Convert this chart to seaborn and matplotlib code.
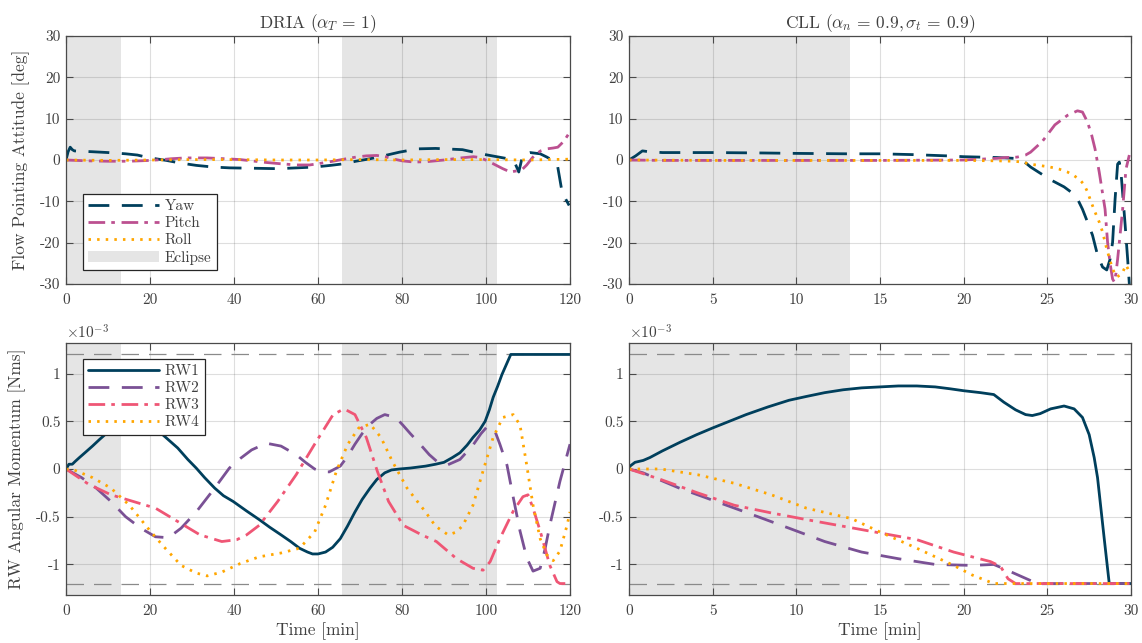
import numpy as np
import pandas as pd
import matplotlib
matplotlib.use("Agg")
import matplotlib.pyplot as plt
import seaborn as sns
from matplotlib.patches import Patch
from matplotlib.lines import Line2D
from matplotlib.ticker import FuncFormatter, FixedLocator

# ---------------- data ----------------
DRIA_TITLE = r'DRIA ($\alpha_T\, =\, 1$)'
CLL_TITLE = r'CLL ($\alpha_n\, =\, 0.9, \sigma_t\, =\, 0.9$)'
ATT_LABELS = ['Yaw', 'Pitch', 'Roll']
RW_LABELS = ['RW1', 'RW2', 'RW3', 'RW4']
DRIA_ECLIPSES = [(0.0, 13.2), (65.7, 102.6)]
CLL_ECLIPSES = [(0.0, 13.2)]
RW_LIMIT = 1.2  # x 1e-3 Nms

# DRIA attitude [deg]
dria_yaw_t = [0, 0.5, 1.0, 1.5, 2, 4, 6.3, 10, 14.2, 17, 19.5, 22, 23.9, 27, 31, 35, 38.9, 45, 50.4, 55,
              59.2, 63, 66.2, 69, 72.4, 76, 79.4, 83.8, 88, 94.4, 98.8, 102, 105.8, 107, 107.8, 108.8,
              110.5, 112.9, 114.5, 116, 117, 118.1, 119, 119.8]
dria_yaw = [0, 2.0, 3.1, 2.5, 2.2, 2.1, 2.0, 1.8, 1.5, 1.2, 0.6, 0.2, -0.1, -0.7, -1.3, -1.7, -1.9, -2.0,
            -2.1, -1.9, -1.7, -1.3, -0.9, -0.3, 0.3, 1.1, 1.9, 2.7, 2.8, 2.5, 1.5, 0.9, 0.2, -1.0, -2.9,
            1.4, 1.8, 1.5, 0.7, -0.2, -1.2, -7.7, -9.5, -11]
dria_pitch_t = [0, 5, 10, 15, 20, 22.9, 25, 28.3, 33.6, 38, 41.5, 45, 47.7, 51, 54.8, 58, 60, 63, 66.2, 69,
                71.5, 74, 76, 77.7, 80, 82.9, 86, 90, 94, 97, 98.5, 99.7, 101.5, 104, 105.8, 107.5, 108.5,
                109.7, 111, 112, 113, 114.5, 116, 117.1, 118.5, 119.8]
dria_pitch = [0, -0.2, -0.3, -0.3, -0.1, 0.1, 0.3, 0.5, 0.5, 0.3, 0.1, -0.3, -0.6, -0.9, -1.2, -1.2, -0.9,
              -0.4, 0.2, 0.7, 1.0, 1.1, 0.8, 0.3, -0.2, -0.5, -0.4, 0, 0.5, 0.8, 0.6, 0.1, -0.8, -2.1,
              -2.9, -2.6, -2.4, -1.2, 0.5, 1.5, 2.2, 2.7, 2.9, 3.1, 4.5, 6.5]
dria_roll_t = [0, 10, 20, 30, 40, 50, 60, 70, 80, 90, 100, 110, 120]
dria_roll = [0, -0.1, 0, 0.1, 0.1, 0, 0, 0.1, 0, 0.1, 0.1, 0, 0.2]

# CLL attitude [deg]
cll_yaw_t = [0, 0.4, 0.8, 1.2, 2, 3, 5, 8, 10, 13, 15, 17, 19, 20, 21, 22, 23, 23.5, 24, 24.5, 25.2, 26,
             26.4, 26.8, 27.1, 27.4, 27.7, 28, 28.3, 28.55, 28.75, 28.9, 29.05, 29.2, 29.3, 29.4, 29.5,
             29.65, 29.8, 29.9]
cll_yaw = [0, 1.0, 2.2, 2.0, 1.8, 1.8, 1.8, 1.7, 1.6, 1.5, 1.5, 1.3, 1.0, 0.8, 0.7, 0.6, 0.4, 0, -1.7, -3,
           -4.8, -6.5, -7.7, -9.4, -11.9, -15, -18.2, -23, -25.9, -26.6, -24, -19.9, -9.4, -1, -0.5, -2.9,
           -8, -15.7, -24, -30]
cll_pitch_t = [0, 2, 5, 10, 15, 20, 21, 22, 22.5, 23.2, 23.7, 24, 24.7, 25.45, 26.2, 26.8, 27.1, 27.4,
               27.65, 27.85, 28.1, 28.45, 28.6, 28.75, 28.9, 29.0, 29.1, 29.2, 29.35, 29.5, 29.7, 29.9]
cll_pitch = [0, -0.1, -0.1, -0.1, -0.1, 0, 0.2, 0.4, 0.6, 0.7, 1.2, 1.9, 4.5, 8.5, 10.8, 11.9, 11.6, 9.2,
             6, 2.7, -2.9, -11.9, -19.9, -25, -28.8, -29.5, -27.5, -24, -18, -11.9, -2.2, 1.2]
cll_roll_t = [0, 5, 10, 15, 20, 22, 23, 23.5, 23.96, 24.5, 25.16, 25.7, 26.2, 26.6, 26.95, 27.2, 27.4,
              27.6, 27.85, 28.1, 28.3, 28.55, 28.9, 29.15, 29.45, 29.7, 29.9]
cll_roll = [0, -0.1, -0.1, -0.1, -0.1, -0.2, -0.3, -0.5, -1, -1.3, -1.7, -2.2, -2.9, -3.8, -4.8, -6, -7.7,
            -10, -12.6, -15, -17.4, -21.5, -26.4, -28.3, -27.6, -25.4, -27]

# DRIA reaction wheel momentum [x1e-3 Nms]
dria_rw1_t = [0, 0.7, 1.5, 2.2, 3.2, 4.5, 6.3, 8, 9.8, 12, 15, 18, 21, 23, 26.6, 29, 31, 33, 35.4, 37.5,
              39.8, 43, 46, 48.5, 51.2, 53.5, 55.6, 57.5, 58.7, 60, 61.8, 63.5, 65.3, 67, 68.8, 70.5, 72.4,
              74, 75.9, 77.5, 79.4, 82, 85.6, 88, 90, 92, 93.8, 95.5, 96.9, 98.5, 99.8, 100.8, 101.7,
              102.8, 103.8, 104.9, 105.9, 120]
dria_rw1 = [0, 0.05, 0.05, 0.08, 0.12, 0.17, 0.24, 0.31, 0.38, 0.44, 0.49, 0.48, 0.42, 0.36, 0.22, 0.1,
            0.01, -0.09, -0.2, -0.28, -0.34, -0.44, -0.53, -0.61, -0.69, -0.76, -0.83, -0.87, -0.89, -0.89,
            -0.87, -0.82, -0.73, -0.6, -0.45, -0.32, -0.2, -0.11, -0.04, -0.01, 0.0, 0.01, 0.03, 0.05,
            0.07, 0.12, 0.17, 0.25, 0.33, 0.41, 0.5, 0.62, 0.75, 0.87, 0.99, 1.1, 1.2, 1.2]
dria_rw2_t = [0, 3.7, 7.2, 10.7, 14.2, 17.8, 21.3, 24.4, 27.4, 31, 35.4, 38.9, 41.5, 44.2, 47.7, 51.2,
              54.8, 57, 59.2, 61, 62.7, 65.3, 67, 68.8, 70.5, 72.4, 74, 75.9, 78.5, 80.2, 82, 84.3, 86.5,
              88.3, 90.7, 93.8, 96.9, 98.8, 100.2, 101.2, 102.1, 103.3, 105, 106.5, 108.1, 109.7, 111.2,
              112.9, 114, 115.2, 117.6, 120]
dria_rw2 = [0, -0.09, -0.2, -0.34, -0.5, -0.62, -0.71, -0.72, -0.62, -0.45, -0.2, 0.01, 0.11, 0.2, 0.27,
            0.24, 0.15, 0.07, 0.0, -0.03, -0.03, 0.03, 0.13, 0.26, 0.37, 0.47, 0.53, 0.57, 0.54, 0.46,
            0.37, 0.26, 0.15, 0.08, 0.04, 0.1, 0.25, 0.37, 0.44, 0.44, 0.4, 0.26, 0.04, -0.3, -0.65,
            -0.93, -1.07, -1.04, -0.85, -0.59, -0.13, 0.26]
dria_rw3_t = [0, 5.4, 10.7, 16, 21.3, 26.6, 31.9, 37.1, 40.7, 43, 46, 50.4, 54.8, 59.2, 63.6, 66.2, 68.8,
              71.5, 74.1, 76.8, 80.3, 84.7, 88.2, 93, 96.9, 99.3, 101, 103.3, 106.5, 108.8, 110, 111.2,
              112.9, 115.2, 116.9, 117.6, 120]
dria_rw3 = [0, -0.16, -0.27, -0.34, -0.41, -0.55, -0.69, -0.76, -0.74, -0.69, -0.59, -0.34, -0.06, 0.26,
            0.57, 0.63, 0.57, 0.33, -0.02, -0.34, -0.59, -0.69, -0.76, -0.94, -1.04, -1.06, -0.97, -0.73,
            -0.44, -0.29, -0.27, -0.41, -0.65, -1.01, -1.18, -1.2, -1.2]
dria_rw4_t = [0, 1.9, 6.3, 10.7, 15.1, 19.5, 23, 27.4, 31, 33.6, 37.1, 41.5, 46, 51.2, 55.6, 59.2, 61.8,
              64.4, 67.1, 69.7, 72.4, 75, 77.7, 81.2, 85.6, 88, 91, 93, 94.5, 96.9, 99.3, 101.7, 104,
              106.5, 108.1, 109.7, 111.2, 112.9, 114.5, 116, 117.6, 119.3, 120]
dria_rw4 = [0, -0.01, -0.09, -0.2, -0.38, -0.62, -0.8, -1.01, -1.09, -1.12, -1.08, -0.99, -0.92, -0.88,
            -0.83, -0.66, -0.38, -0.02, 0.26, 0.43, 0.47, 0.33, 0.08, -0.2, -0.45, -0.6, -0.69, -0.66,
            -0.59, -0.38, -0.02, 0.33, 0.54, 0.57, 0.46, 0.04, -0.38, -0.73, -0.9, -0.96, -0.86, -0.59,
            -0.45]

# CLL reaction wheel momentum [x1e-3 Nms]
cll_rw1_t = [0, 0.06, 0.36, 0.85, 1.25, 2.0, 3.05, 4.05, 5.0, 6.0, 7.0, 8.3, 9.56, 10.6, 11.7, 12.8, 13.9,
             15, 16.1, 17.2, 18.3, 19.2, 20, 21, 21.8, 22.4, 23.1, 23.7, 24.1, 24.57, 25.2, 26.0, 26.6,
             27.1, 27.5, 27.8, 28.0, 28.2, 28.4, 28.7, 30]
cll_rw1 = [0, 0.03, 0.07, 0.09, 0.12, 0.19, 0.28, 0.36, 0.43, 0.5, 0.57, 0.65, 0.72, 0.76, 0.8, 0.83, 0.85,
           0.86, 0.87, 0.87, 0.86, 0.84, 0.82, 0.8, 0.78, 0.7, 0.62, 0.57, 0.56, 0.58, 0.63, 0.66, 0.63,
           0.54, 0.36, 0.12, -0.09, -0.41, -0.73, -1.2, -1.2]
cll_rw2_t = [0, 0.84, 3, 5.2, 7.4, 9.56, 11.7, 13.9, 16.1, 18.3, 20.5, 21.8, 22.6, 23.5, 24.4, 30]
cll_rw2 = [0, -0.04, -0.2, -0.34, -0.48, -0.62, -0.76, -0.87, -0.94, -1.0, -1.01, -1.0, -1.06, -1.13,
           -1.2, -1.2]
cll_rw3_t = [0, 1.9, 4.1, 6.3, 8.5, 10.6, 12.8, 15, 17.2, 19.4, 21.6, 22.2, 22.65, 23.1, 30]
cll_rw3 = [0, -0.11, -0.25, -0.38, -0.46, -0.53, -0.6, -0.67, -0.74, -0.87, -0.97, -1.02, -1.15, -1.2, -1.2]
cll_rw4_t = [0, 1.9, 4.1, 6.3, 8.5, 10.6, 13.3, 15, 17.2, 19.4, 20.5, 21.8, 30]
cll_rw4 = [0, 0, -0.06, -0.15, -0.27, -0.41, -0.52, -0.66, -0.83, -1.01, -1.11, -1.2, -1.2]

DRIA_XTICKS = [0, 20, 40, 60, 80, 100, 120]
CLL_XTICKS = [0, 5, 10, 15, 20, 25, 30]
ATT_YTICKS = [-30, -20, -10, 0, 10, 20, 30]
RW_YTICKS = [-1, -0.5, 0, 0.5, 1]

# ---------------- style ----------------
NAVY = '#003f5c'
PURPLE = '#7a5195'
MAGENTA = '#bc5090'
PINK = '#ef5675'
ORANGE = '#ffa600'
SHADE = '#e5e5e5'
TXT = '#404040'
EDGE = '#4a4a4a'

sns.set_style("ticks")
plt.rcParams.update({
    'font.family': ['cmr10', 'DejaVu Serif'],
    'mathtext.fontset': 'cm',
    'axes.unicode_minus': False,
    'text.color': TXT,
    'axes.labelcolor': TXT,
    'xtick.color': EDGE,
    'ytick.color': EDGE,
    'xtick.labelcolor': TXT,
    'ytick.labelcolor': TXT,
    'axes.edgecolor': EDGE,
    'lines.scale_dashes': True,
})

LW = 2.0
DASH = (7.5, 4.5)
DASHDOT = (6.0, 2.2, 1.3, 2.4)
DOT = (0.9, 2.2)

fig = plt.figure(figsize=(11.42, 6.43), dpi=100)
W, H = 1142, 643


def add_ax(x0, y0, x1, y1):
    return fig.add_axes([x0 / W, 1 - y1 / H, (x1 - x0) / W, (y1 - y0) / H])


ax_tl = add_ax(66, 36, 570, 284)
ax_tr = add_ax(629, 36, 1131, 284)
ax_bl = add_ax(66, 343, 570, 595)
ax_br = add_ax(629, 343, 1131, 595)

fmt = FuncFormatter(lambda v, p: f"{v:g}")


def style_ax(ax, xlim, xticks, ylim, yticks):
    ax.set_facecolor('white')
    ax.set_xlim(*xlim)
    ax.set_ylim(*ylim)
    ax.xaxis.set_major_locator(FixedLocator(xticks))
    ax.yaxis.set_major_locator(FixedLocator(yticks))
    ax.xaxis.set_major_formatter(fmt)
    ax.yaxis.set_major_formatter(fmt)
    ax.set_axisbelow('line')
    ax.grid(True, color='#262626', alpha=0.15, lw=0.8)
    ax.tick_params(direction='in', top=True, right=True, length=5, width=0.8,
                   labelsize=11)
    ax.tick_params(axis='x', pad=7)
    ax.tick_params(axis='y', pad=4)
    for s in ax.spines.values():
        s.set_linewidth(0.9)
        s.set_color(EDGE)
    ax.set_xlabel('')
    ax.set_ylabel('')


def draw(ax, t, v, color, dashes):
    sns.lineplot(x=t, y=v, ax=ax, color=color, lw=LW, estimator=None, sort=False)
    ln = ax.lines[-1]
    if dashes is not None:
        ln.set_dashes(dashes)
        ln.set_dash_capstyle('butt')
    ln.set_solid_capstyle('butt')
    ln.set_solid_joinstyle('round')
    ln.set_dash_joinstyle('round')
    return ln


# eclipse shading
for a, b in DRIA_ECLIPSES:
    ax_tl.axvspan(a, b, color=SHADE, lw=0, zorder=0.5)
    ax_bl.axvspan(a, b, color=SHADE, lw=0, zorder=0.5)
for a, b in CLL_ECLIPSES:
    ax_tr.axvspan(a, b, color=SHADE, lw=0, zorder=0.5)
    ax_br.axvspan(a, b, color=SHADE, lw=0, zorder=0.5)

# attitude
att_styles = [(NAVY, DASH), (MAGENTA, DASHDOT), (ORANGE, DOT)]
for (t, v), (c, d) in zip([(dria_yaw_t, dria_yaw), (dria_pitch_t, dria_pitch), (dria_roll_t, dria_roll)],
                          att_styles):
    draw(ax_tl, t, v, c, d)
for (t, v), (c, d) in zip([(cll_yaw_t, cll_yaw), (cll_pitch_t, cll_pitch), (cll_roll_t, cll_roll)],
                          att_styles):
    draw(ax_tr, t, v, c, d)

# reaction wheels
rw_styles = [(NAVY, None), (PURPLE, DASH), (PINK, DASHDOT), (ORANGE, DOT)]
for ax in (ax_bl, ax_br):
    for lim in (RW_LIMIT, -RW_LIMIT):
        ax.axhline(lim, color='#8a8a8a', lw=0.9, dashes=(14, 8), zorder=1.6)
for (t, v), (c, d) in zip([(dria_rw1_t, dria_rw1), (dria_rw2_t, dria_rw2), (dria_rw3_t, dria_rw3),
                           (dria_rw4_t, dria_rw4)], rw_styles):
    draw(ax_bl, t, v, c, d)
for (t, v), (c, d) in zip([(cll_rw1_t, cll_rw1), (cll_rw2_t, cll_rw2), (cll_rw3_t, cll_rw3),
                           (cll_rw4_t, cll_rw4)], rw_styles):
    draw(ax_br, t, v, c, d)

style_ax(ax_tl, (0, 120), DRIA_XTICKS, (-30, 30), ATT_YTICKS)
style_ax(ax_tr, (0, 30), CLL_XTICKS, (-30, 30), ATT_YTICKS)
style_ax(ax_bl, (0, 120), DRIA_XTICKS, (-1.1 * RW_LIMIT, 1.1 * RW_LIMIT), RW_YTICKS)
style_ax(ax_br, (0, 30), CLL_XTICKS, (-1.1 * RW_LIMIT, 1.1 * RW_LIMIT), RW_YTICKS)

ax_tl.set_title(DRIA_TITLE, fontsize=12.5, color=TXT, pad=6)
ax_tr.set_title(CLL_TITLE, fontsize=12.5, color=TXT, pad=6)
ax_tl.set_ylabel('Flow Pointing Attitude [deg]', fontsize=12.5)
ax_bl.set_ylabel('RW Angular Momentum [Nms]', fontsize=12.5)
ax_tl.yaxis.set_label_coords(-0.072, 0.5)
ax_bl.yaxis.set_label_coords(-0.080, 0.5)
for ax in (ax_bl, ax_br):
    ax.set_xlabel('Time [min]', fontsize=12.5, labelpad=3)
    ax.text(0.0, 1.005, r'$\times 10^{-3}$', transform=ax.transAxes, ha='left', va='bottom',
            fontsize=11, color=TXT)


# legends
def leg_handle(c, d):
    h = Line2D([], [], color=c, lw=LW)
    if d is not None:
        h.set_dashes(d)
        h.set_dash_capstyle('butt')
    return h


att_handles = [leg_handle(c, d) for c, d in att_styles] + [Patch(facecolor=SHADE, edgecolor='none')]
leg = ax_tl.legend(att_handles, ATT_LABELS + ['Eclipse'], loc='lower left',
                   bbox_to_anchor=(0.034, 0.056), borderaxespad=0, fontsize=11,
                   handlelength=4.6, handletextpad=0.4, labelspacing=0.22, borderpad=0.35,
                   fancybox=False, framealpha=1, edgecolor='#262626')
leg.get_frame().set_linewidth(0.9)
for t in leg.get_texts():
    t.set_color(TXT)

rw_handles = [leg_handle(c, d) for c, d in rw_styles]
leg2 = ax_bl.legend(rw_handles, RW_LABELS, loc='upper left',
                    bbox_to_anchor=(0.034, 0.937), borderaxespad=0, fontsize=11,
                    handlelength=4.6, handletextpad=0.4, labelspacing=0.22, borderpad=0.35,
                    fancybox=False, framealpha=1, edgecolor='#262626')
leg2.get_frame().set_linewidth(0.9)
for t in leg2.get_texts():
    t.set_color(TXT)

fig.savefig('out.png', dpi=100, facecolor='white')
